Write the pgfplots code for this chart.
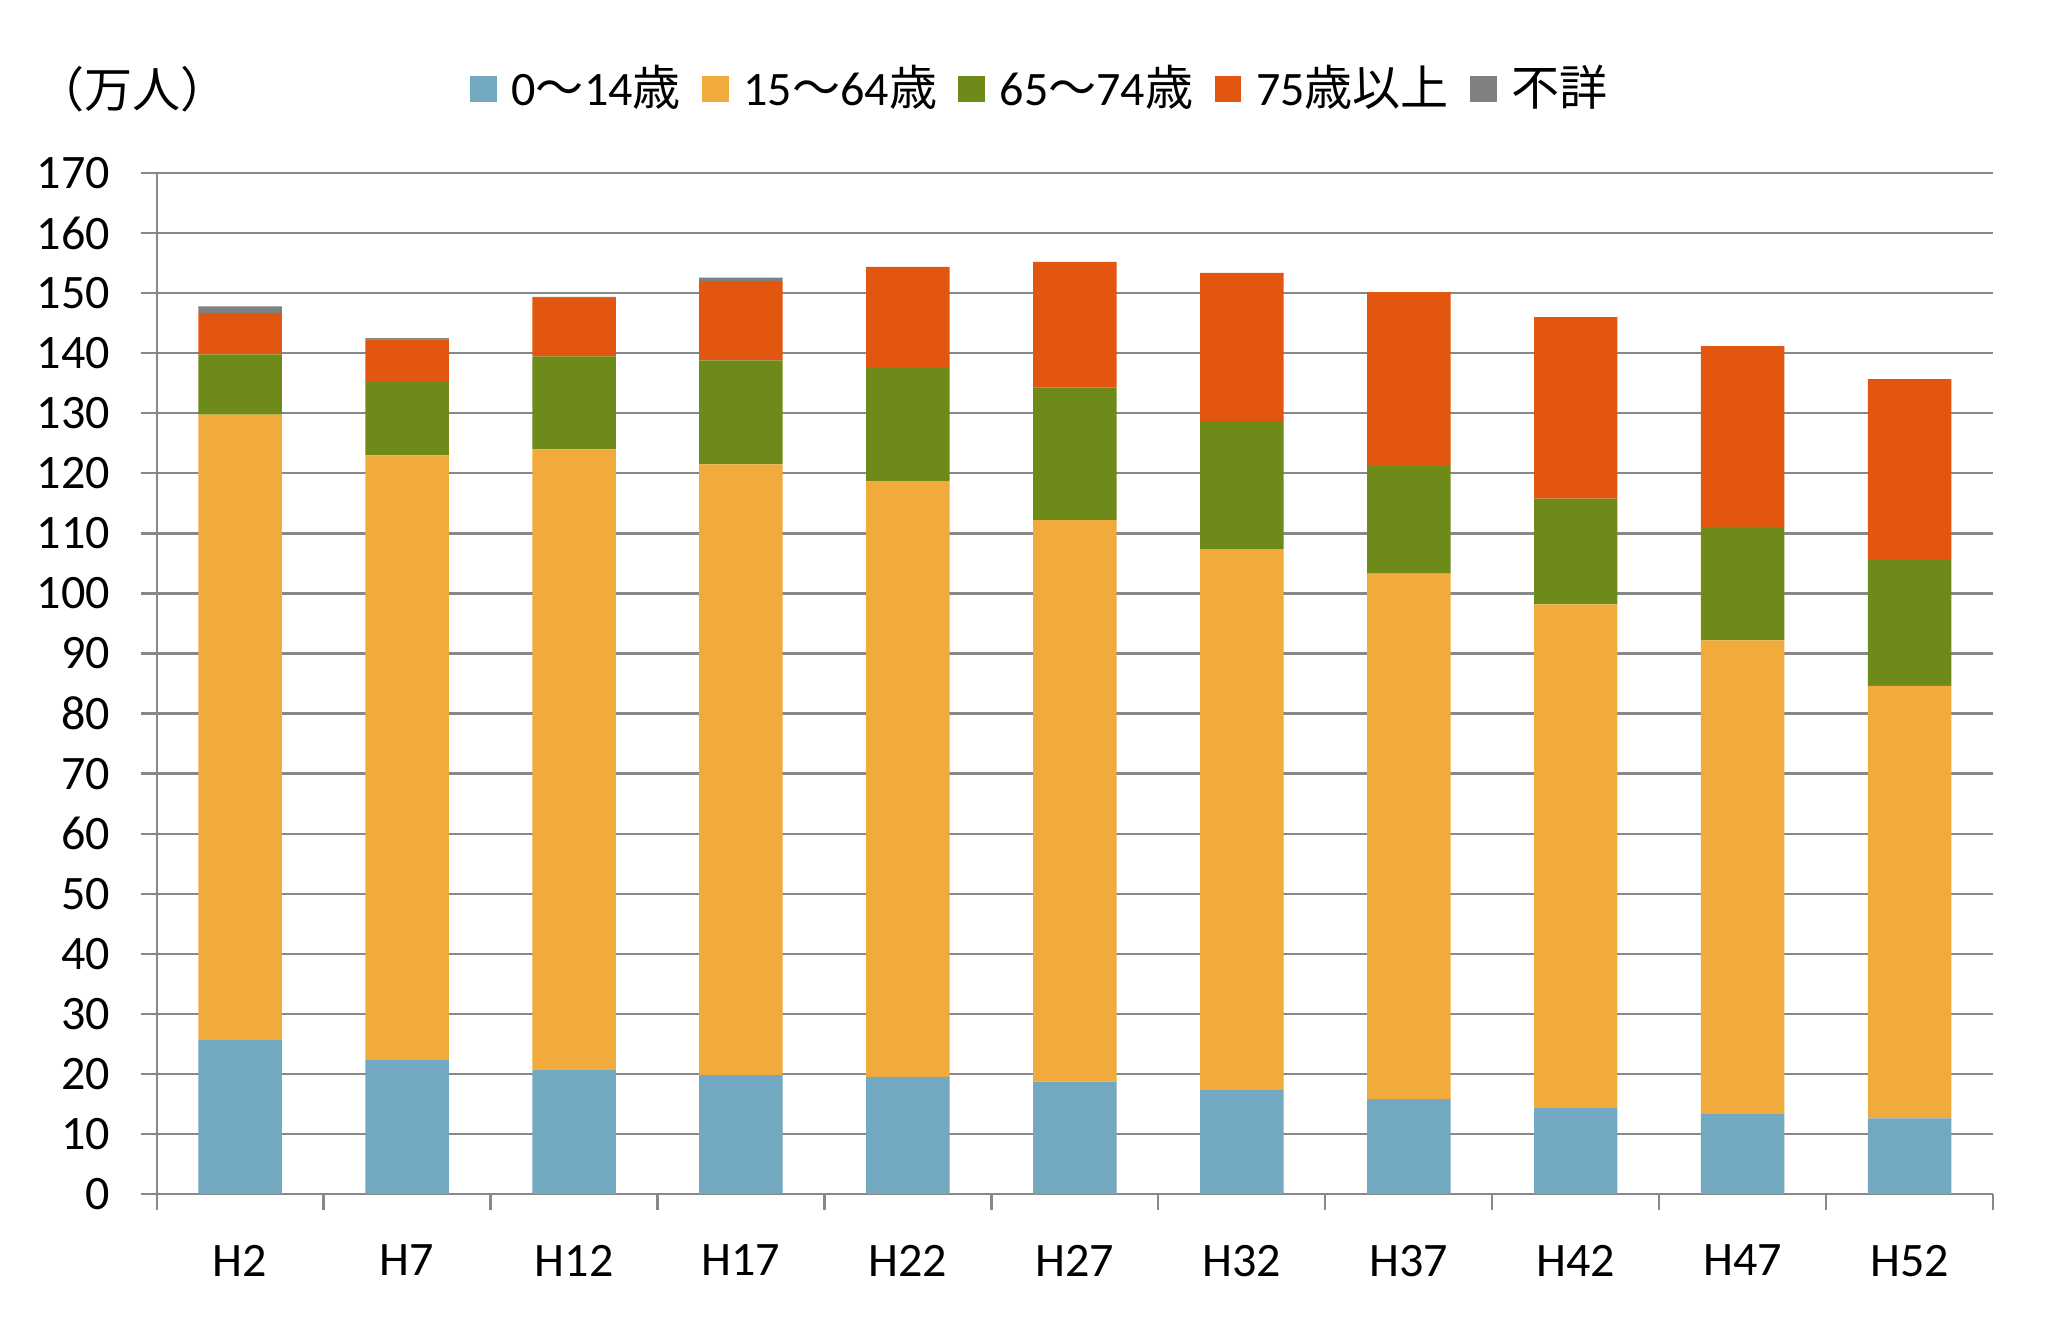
\documentclass[border=0pt]{standalone}
\usepackage{fontspec}
\setmainfont{Carlito}
\newfontfamily\jp{Noto Sans CJK JP}
\usepackage{pgfplots}
\usepackage{pgfplotstable}
\pgfplotsset{compat=1.18}
\definecolor{cblue}{HTML}{72A8C0}
\definecolor{corange}{HTML}{F0AB3C}
\definecolor{cgreen}{HTML}{6E8A18}
\definecolor{cred}{HTML}{E2560F}
\definecolor{cgray}{HTML}{808080}
\definecolor{gridc}{HTML}{888888}
\pgfplotstableread{
x a b c d e
0 25.6 104.2 10.0 6.9 1.1
1 22.3 100.7 12.2 7.1 0.2
2 20.6 103.4 15.5 9.7 0.2
3 19.8 101.7 17.3 13.2 0.6
4 19.5 99.2 19.0 16.7 0
5 18.7 93.5 22.1 20.9 0
6 17.3 90.1 21.3 24.7 0
7 15.8 87.5 17.9 29.0 0
8 14.3 83.9 17.6 30.2 0
9 13.4 78.8 18.9 30.1 0
10 12.6 72.0 21.1 30.0 0
}\data
\pgfplotsset{mybar/.style={fill=#1, draw=none, legend image code/.code={\fill[#1] (0pt,-3pt) rectangle (6pt,3pt);}}}
\begin{document}
\begin{tikzpicture}
\useasboundingbox (-35.2pt,-30.1pt) rectangle (428.4pt,268.3pt);
\begin{axis}[
  at={(0,0)}, anchor=south west,
  scale only axis, width=412.7pt, height=229.4pt,
  ybar stacked, bar width=0.5,
  xmin=-0.5, xmax=10.5, ymin=0, ymax=170,
  ytick={0,10,...,170},
  xtick={0,...,10},
  xticklabels={H2,H7,H12,H17,H22,H27,H32,H37,H42,H47,H52},
  minor xtick={-0.5,0.5,...,10.5},
  major x tick style={draw=none},
  minor x tick style={draw=gridc, line width=0.5pt},
  y tick style={draw=gridc, line width=0.5pt},
  tick align=outside,
  major tick length=3.6pt, minor tick length=3.7pt,
  ymajorgrids, grid style={draw=gridc, line width=0.5pt},
  axis x line*=bottom, axis y line*=left,
  axis line style={draw=gridc, line width=0.5pt, -},
  tick label style={font=\fontsize{10.8}{13}\selectfont},
  /pgf/number format/assume math mode=true,
  yticklabel style={xshift=-3.4pt},
  xticklabel style={yshift=-4.3pt},
  clip=false,
  legend columns=5,
  legend style={at={(axis description cs:0.163,1.0825)}, anchor=west, draw=none, fill=none,
    font=\fontsize{10.8}{13}\selectfont, nodes={inner sep=3.3pt},
    /tikz/every even column/.append style={column sep=1.5pt}},
]
\addplot+[mybar=cblue] table[x=x,y=a]{\data};
\addlegendentry{0{\jp ～}14{\jp 歳}}
\addplot+[mybar=corange] table[x=x,y=b]{\data};
\addlegendentry{15{\jp ～}64{\jp 歳}}
\addplot+[mybar=cgreen] table[x=x,y=c]{\data};
\addlegendentry{65{\jp ～}74{\jp 歳}}
\addplot+[mybar=cred] table[x=x,y=d]{\data};
\addlegendentry{75{\jp 歳以上}}
\addplot+[mybar=cgray] table[x=x,y=e]{\data};
\addlegendentry{{\jp 不詳}}
\node[anchor=west, inner sep=0pt, font=\jp\fontsize{10.8}{13}\selectfont] at (axis description cs:-0.066,1.0825) {（万人）};
\end{axis}
\end{tikzpicture}
\end{document}
